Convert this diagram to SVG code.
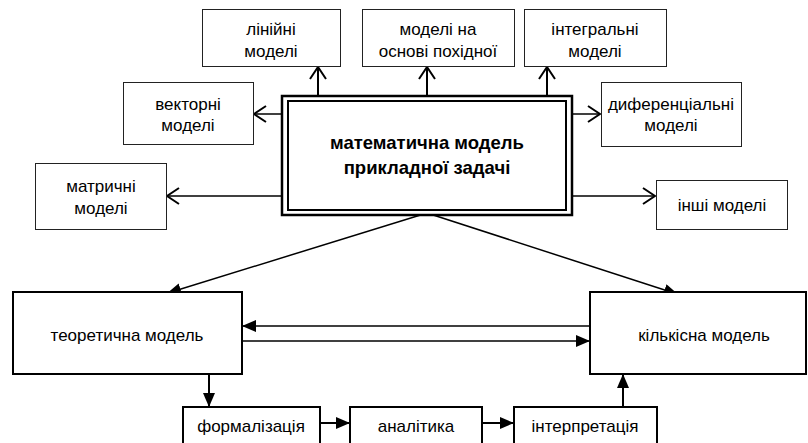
<svg xmlns="http://www.w3.org/2000/svg" width="808" height="443" viewBox="0 0 808 443">
<style>
text{font-family:"Liberation Sans",Arial,sans-serif;font-size:17px;fill:#000;text-anchor:middle}
.thin{fill:#fff;stroke:#222;stroke-width:1}
.thick{fill:#fff;stroke:#000;stroke-width:2}
.c{fill:none;stroke:#000;stroke-width:2}
.c1{fill:none;stroke:#000;stroke-width:1.5}
.b{font-weight:bold;font-size:18.5px}
</style>
<defs>
<marker id="open" markerWidth="14" markerHeight="18" refX="13" refY="9" orient="auto" markerUnits="userSpaceOnUse">
<path d="M1,1 L13,9 L1,17" fill="none" stroke="#000" stroke-width="2"/>
</marker>
<marker id="fill" markerWidth="14" markerHeight="12" refX="13" refY="6" orient="auto" markerUnits="userSpaceOnUse">
<path d="M0,0 L14,6 L0,12 Z" fill="#000"/>
</marker>
</defs>
<g id="connectors">
<line class="c" x1="318" y1="95" x2="318" y2="67" marker-end="url(#open)"/>
<line class="c" x1="427" y1="95" x2="427" y2="67" marker-end="url(#open)"/>
<line class="c" x1="547" y1="95" x2="547" y2="67" marker-end="url(#open)"/>
<line class="c1" x1="282" y1="114" x2="254" y2="114" marker-end="url(#open)"/>
<line class="c1" x1="572" y1="114" x2="600" y2="114" marker-end="url(#open)"/>
<line class="c1" x1="282" y1="196" x2="167" y2="196" marker-end="url(#open)"/>
<line class="c1" x1="572" y1="196" x2="655" y2="196" marker-end="url(#open)"/>
<line class="c1" x1="427" y1="213" x2="168" y2="293" marker-end="url(#fill)"/>
<line class="c1" x1="427" y1="213" x2="677" y2="294" marker-end="url(#fill)"/>
<line class="c1" x1="590" y1="326" x2="243" y2="326" marker-end="url(#fill)"/>
<line class="c1" x1="242" y1="341" x2="589" y2="341" marker-end="url(#fill)"/>
<line class="c" x1="209" y1="374" x2="209" y2="406" marker-end="url(#fill)"/>
<line class="c" x1="320" y1="423" x2="349" y2="423" marker-end="url(#fill)"/>
<line class="c" x1="482" y1="423" x2="513" y2="423" marker-end="url(#fill)"/>
<line class="c" x1="623" y1="407" x2="623" y2="375" marker-end="url(#fill)"/>
</g>
<g id="linear"><rect class="thin" x="202.5" y="9.5" width="138" height="57"/><text x="271" y="35">лінійні</text><text x="271" y="57">моделі</text></g>
<g id="derivative"><rect class="thin" x="362.5" y="9.5" width="152" height="57"/><text x="438" y="35">моделі на</text><text x="438" y="57">основі похідної</text></g>
<g id="integral"><rect class="thin" x="524.5" y="9.5" width="142" height="57"/><text x="595" y="35">інтегральні</text><text x="595" y="57">моделі</text></g>
<g id="vector"><rect class="thin" x="123.5" y="82.5" width="130" height="62"/><text x="188" y="110">векторні</text><text x="188" y="131">моделі</text></g>
<g id="differential"><rect class="thin" x="601.5" y="82.5" width="140" height="64"/><text x="671" y="110">диференціальні</text><text x="671" y="131">моделі</text></g>
<g id="matrix"><rect class="thin" x="35.5" y="163.5" width="131" height="66"/><text x="101" y="192">матричні</text><text x="101" y="214">моделі</text></g>
<g id="other"><rect class="thin" x="656.5" y="180.5" width="131" height="49"/><text x="722" y="211">інші моделі</text></g>
<g id="main">
<rect x="282" y="96" width="290" height="119" fill="#fff" stroke="#000" stroke-width="2.5"/>
<rect x="288" y="101" width="278" height="109" fill="#fff" stroke="#000" stroke-width="2"/>
<text class="b" x="427" y="149">математична модель</text>
<text class="b" x="427" y="174">прикладної задачі</text>
</g>
<g id="theoretical"><rect class="thick" x="13" y="292" width="229" height="82"/><text x="127" y="341">теоретична модель</text></g>
<g id="quantitative"><rect class="thick" x="590" y="292" width="216" height="82"/><text x="704" y="341">кількісна модель</text></g>
<g id="formalization"><rect class="thick" x="183" y="407" width="137" height="40"/><text x="251" y="432">формалізація</text></g>
<g id="analytics"><rect class="thick" x="350" y="407" width="132" height="40"/><text x="416" y="432">аналітика</text></g>
<g id="interpretation"><rect class="thick" x="514" y="407" width="143" height="40"/><text x="585" y="432">інтерпретація</text></g>
</svg>
